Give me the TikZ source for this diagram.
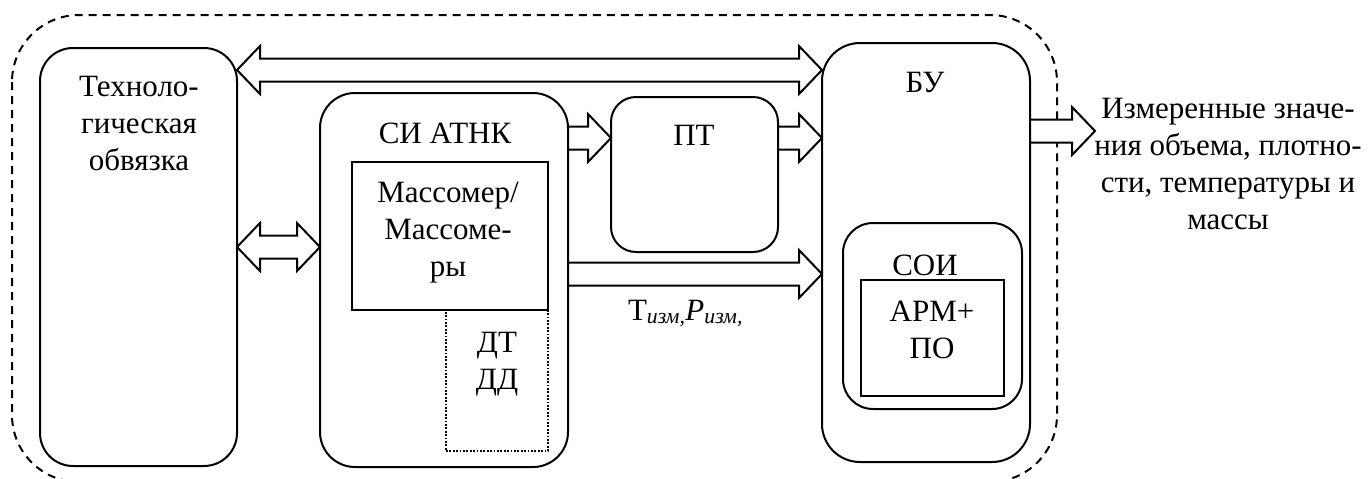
\documentclass[tikz,border=0pt]{standalone}
\usepackage{fontspec}
\setmainfont{Liberation Serif}
\usetikzlibrary{calc}

% block-arrow dimensions
\newcommand\shaftw{11.5pt}
\newcommand\headw{24pt}
\newcommand\headl{23pt}

% single-headed hollow block arrow, horizontal, from #1 to #2 (y taken from #1)
\newcommand\sarrow[2]{%
  \draw[blk] let \p1=#1, \p2=#2 in
    (\x1,\y1+\shaftw) -- (\x2-\headl,\y1+\shaftw) -- (\x2-\headl,\y1+\headw)
    -- (\x2,\y1) -- (\x2-\headl,\y1-\headw) -- (\x2-\headl,\y1-\shaftw)
    -- (\x1,\y1-\shaftw) -- cycle;}

% double-headed hollow block arrow, horizontal, between #1 and #2
\newcommand\darrow[2]{%
  \draw[blk] let \p1=#1, \p2=#2 in
    (\x1,\y1) -- (\x1+\headl,\y1+\headw) -- (\x1+\headl,\y1+\shaftw)
    -- (\x2-\headl,\y1+\shaftw) -- (\x2-\headl,\y1+\headw) -- (\x2,\y1)
    -- (\x2-\headl,\y1-\headw) -- (\x2-\headl,\y1-\shaftw)
    -- (\x1+\headl,\y1-\shaftw) -- (\x1+\headl,\y1-\headw) -- cycle;}

\tikzset{
  every node/.style={font=\fontsize{31}{37}\selectfont, inner sep=0pt, outer sep=0pt},
  rbox/.style={draw, line width=2pt, rectangle, rounded corners=#1},
  rbox/.default=30pt,
  sbox/.style={draw, line width=2pt, rectangle},
  dotbox/.style={draw, line width=1.8pt, rectangle, dash pattern=on 1.8pt off 1.6pt},
  blk/.style={draw, fill=white, line width=2pt, line join=miter},
  % multi-line texts are placed by the baseline of their last line
  txt/.style={align=center, anchor=base},
  border/.style={line width=2pt, dash pattern=on 8pt off 6pt, rounded corners=67pt},
}

\begin{document}
\begin{tikzpicture}[x=1pt, y=-1pt]
\useasboundingbox (0,0) rectangle (1368,479);

% system boundary
\draw[border] (12,15) rectangle (1057,482);

% blocks
\node[rbox=33pt, minimum width=197pt, minimum height=418pt] (tech) at (138.5,257) {};
\node[rbox=35pt, minimum width=248pt, minimum height=374pt] (si) at (444,280) {};
\node[dotbox, minimum width=102pt, minimum height=141pt] (dt) at (497,380.5) {};
\node[sbox, fill=white, minimum width=196pt, minimum height=148pt] (mass) at (450,236) {};
\node[rbox=25pt, minimum width=167pt, minimum height=155pt] (pt) at (694.5,174.5) {};
\node[rbox=38pt, minimum width=208pt, minimum height=419pt] (bu) at (926,252.5) {};
\node[rbox=30pt, minimum width=179pt, minimum height=186pt] (soi) at (932.5,316) {};
\node[sbox, minimum width=143pt, minimum height=116pt] (arm) at (932.5,338) {};

% texts
\node[txt] (ttech) at (139,170) {Техноло-\\гическая\\обвязка};
\node[txt] (tsi) at (445,143) {СИ АТНК};
\node[txt] (tmass) at (448,276) {Массомер/\\Массоме-\\ры};
\node[txt] (tdt) at (497,389) {ДТ\\ДД};
\node[txt] (tpt) at (694,145) {ПТ};
\node[txt] (tbu) at (925,92) {БУ};
\node[txt] (tsoi) at (925,275) {СОИ};
\node[txt] (tarm) at (932,358) {АРМ+\\ПО};
\node[anchor=base west] (tmeas) at (628,320)
  {Т\textsubscript{\itshape изм,}\textit{P}\textsubscript{\itshape изм,}};
\node[txt] (tout) at (1228,229)
  {Измеренные значе-\\ния объема, плотно-\\сти, температуры и\\массы};

% signal levels
\coordinate (ytop) at (0,70);
\coordinate (ylink) at (0,247);
\coordinate (ypt) at (0,138);
\coordinate (ylow) at (0,274);
\coordinate (yout) at (0,131);
\coordinate (outtip) at (1095,131);

% connectors
\darrow{(tech.east |- ytop)}{(bu.west |- ytop)}
\darrow{(tech.east |- ylink)}{(si.west |- ylink)}
\sarrow{(si.east |- ypt)}{(pt.west |- ypt)}
\sarrow{(pt.east |- ypt)}{(bu.west |- ypt)}
\sarrow{(si.east |- ylow)}{(bu.west |- ylow)}
\sarrow{(bu.east |- yout)}{(outtip)}
\end{tikzpicture}
\end{document}
